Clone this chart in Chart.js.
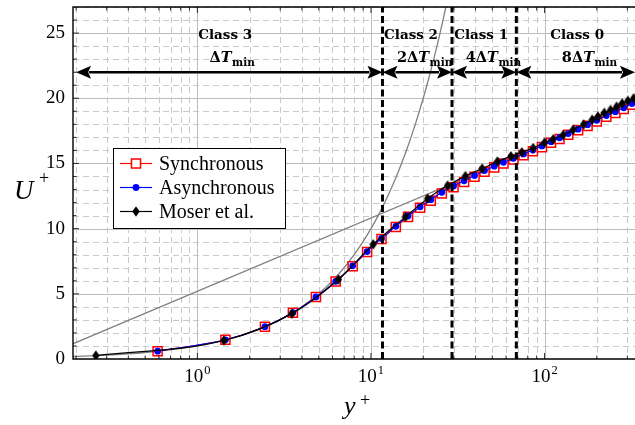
<!DOCTYPE html>
<html><head><meta charset="utf-8">
<script src="https://cdn.jsdelivr.net/npm/chart.js@4.4.0/dist/chart.umd.min.js"></script>
<style>html,body{margin:0;padding:0;background:#fff;}#wrap{width:635px;height:425px;position:relative;}</style>
</head><body><div id="wrap"><canvas id="c" width="635" height="425"></canvas></div>
<script>
// ---------- data ----------
const syncYPlus = [0.59,1.45,2.45,3.55,4.82,6.26,7.84,9.5,11.5,13.9,16.35,19.2,22.1,25.6,29.9,34.4,39.5,45.1,51.3,58.0,66.2,75.7,85.7,96.6,109,122,137,156,177,200,227,256,286,319,356];
const syncU     = [0.6,1.47,2.48,3.55,4.75,5.94,7.12,8.2,9.2,10.12,10.9,11.6,12.14,12.7,13.18,13.58,13.98,14.36,14.7,15.0,15.3,15.64,15.94,16.25,16.58,16.88,17.2,17.54,17.88,18.22,18.58,18.88,19.18,19.5,19.8];
const asyncYPlus = [0.59,1.45,2.45,3.55,4.82,6.26,7.84,9.5,11.5,13.9,16.35,19.2,22.1,25.6,29.9,34.4,39.5,45.1,51.3,58.0,66.2,75.7,85.7,96.6,109,122,137,156,177,200,227,256,286,319,356];
const asyncU     = [0.6,1.47,2.48,3.56,4.76,5.96,7.15,8.24,9.25,10.18,10.97,11.67,12.22,12.79,13.27,13.67,14.07,14.45,14.79,15.09,15.39,15.73,16.03,16.34,16.67,16.97,17.29,17.63,17.97,18.31,18.67,18.97,19.27,19.59,19.9];
const moserYPlus = [0.26,1.42,3.5,6.5,10.3,15.8,21.2,27.6,35,43.7,53.5,64,74,86,100,112,128,146,168,188,203,221,240,260,280,302,326,352];
const moserU     = [0.26,1.42,3.48,6.1,8.8,10.9,12.3,13.3,14.03,14.6,15.15,15.55,15.85,16.18,16.6,16.85,17.18,17.58,18.0,18.35,18.6,18.88,19.1,19.35,19.6,19.8,20.0,20.2];
// reference curves: viscous sublayer U+ = y+ and log law
const viscousYPlus = [0.19,0.3,0.5,0.75,1,1.5,2,2.5,3,4,5,6,7,8,9,10,11,12,13,14,15,16,17,18,19,20,21,22,23,24,25,26,27,28];
const viscousU     = [0.19,0.3,0.5,0.75,1,1.5,2,2.5,3,4,5,6,7,8,9,10,11,12,13,14,15,16,17,18,19,20,21,22,23,24,25,26,27,28];
const logLawYPlus = [0.19, 350];
const logLawU     = [1.15, 19.49];
// class annotations
const classBounds = [11.65, 29.3, 68.8];
const arrowEnds   = [0.2, 332];
const arrowU      = 22;
const classNames  = ['Class 3','Class 2','Class 1','Class 0'];
const classLabelX = [1.445, 17.0, 43.1, 154];
const classLabelU = 24.58;
const dtPrefix    = ['', '2', '4', '8'];
const dtLabelX    = [1.58, 20.3, 50.6, 181];
const dtLabelU    = 22.78;
// axes
const xMin = 0.192, xMax = 332, yMin = 0, yMax = 27;
const xTickValues = [1, 10, 100];
const xTickExp = ['0','1','2'];
const yTickStep = 5;

const pts = (xs, ys) => xs.map((x, i) => ({x, y: ys[i]}));

// diamond marker (taller than wide)
function makeDiamond(w, h, color){
  const c = document.createElement('canvas'); c.width = w; c.height = h;
  const g = c.getContext('2d'); g.fillStyle = color; g.beginPath();
  g.moveTo(w/2, 0.3); g.lineTo(w-0.3, h/2); g.lineTo(w/2, h-0.3); g.lineTo(0.3, h/2); g.closePath(); g.fill();
  return c;
}
const diamond = makeDiamond(8, 11, '#000');

const SERIF = "'Liberation Serif', 'Times New Roman', serif";
const BOLDSERIF = "'DejaVu Serif', serif";

function noPad(s){ s.paddingTop = 0; s.paddingBottom = 0; s.paddingLeft = 0; s.paddingRight = 0; }

const overlay = {
  id: 'overlay',
  beforeDatasetsDraw(chart){
    const {ctx, chartArea: a, scales: {x, y}} = chart;
    ctx.save();
    ctx.beginPath(); ctx.rect(a.left, a.top, a.right - a.left, a.bottom - a.top); ctx.clip();
    ctx.lineWidth = 1;
    for (let v = yMin + 1; v <= yMax; v++) {
      const py = Math.round(y.getPixelForValue(v)) + 0.5;
      const major = v % yTickStep === 0;
      ctx.strokeStyle = major ? '#bdbdbd' : '#c9c9c9';
      ctx.setLineDash(major ? [] : [6, 4]);
      ctx.beginPath(); ctx.moveTo(a.left, py); ctx.lineTo(a.right, py); ctx.stroke();
    }
    for (let d = -1; d <= 2; d++) {
      for (let m = 1; m <= 9; m++) {
        const v = m * Math.pow(10, d);
        if (v <= xMin || v >= xMax) continue;
        const px = Math.round(x.getPixelForValue(v)) + 0.5;
        const major = m === 1;
        ctx.strokeStyle = major ? '#bdbdbd' : '#c9c9c9';
        ctx.setLineDash(major ? [] : [6, 4]);
        ctx.beginPath(); ctx.moveTo(px, a.top); ctx.lineTo(px, a.bottom); ctx.stroke();
      }
    }
    ctx.restore();
  },
  afterDatasetsDraw(chart){
    const {ctx, chartArea: a, scales: {x, y}} = chart;
    ctx.save();
    ctx.strokeStyle = '#000'; ctx.lineWidth = 3; ctx.setLineDash([7, 3.5]);
    classBounds.forEach(b => {
      const px = x.getPixelForValue(b);
      ctx.beginPath(); ctx.moveTo(px, a.bottom); ctx.lineTo(px, a.top); ctx.stroke();
    });
    ctx.setLineDash([]);
    const stops = [arrowEnds[0], ...classBounds, arrowEnds[1]];
    const ay = y.getPixelForValue(arrowU);
    const hl = 15, hw = 6.5;
    for (let i = 0; i < stops.length - 1; i++) {
      const x1 = x.getPixelForValue(stops[i]), x2 = x.getPixelForValue(stops[i+1]);
      ctx.fillStyle = '#000'; ctx.strokeStyle = '#000'; ctx.lineWidth = 2.4;
      ctx.beginPath(); ctx.moveTo(x1 + hl - 2, ay); ctx.lineTo(x2 - hl + 2, ay); ctx.stroke();
      ctx.beginPath(); ctx.moveTo(x1, ay); ctx.lineTo(x1 + hl, ay - hw); ctx.lineTo(x1 + hl - 3, ay); ctx.lineTo(x1 + hl, ay + hw); ctx.closePath(); ctx.fill();
      ctx.beginPath(); ctx.moveTo(x2, ay); ctx.lineTo(x2 - hl, ay - hw); ctx.lineTo(x2 - hl + 3, ay); ctx.lineTo(x2 - hl, ay + hw); ctx.closePath(); ctx.fill();
    }
    ctx.fillStyle = '#000'; ctx.textBaseline = 'alphabetic'; ctx.textAlign = 'center';
    ctx.font = "bold 13.5px " + BOLDSERIF;
    classNames.forEach((n, i) => ctx.fillText(n, x.getPixelForValue(classLabelX[i]), y.getPixelForValue(classLabelU)));
    ctx.textAlign = 'left';
    const fMain = "bold 14.5px " + BOLDSERIF, fIt = "italic bold 14.5px " + BOLDSERIF, fSub = "bold 10.5px " + BOLDSERIF;
    dtPrefix.forEach((p, i) => {
      const parts = [[p + '\u0394', fMain, 0], ['T', fIt, 0], ['min', fSub, 3.5]];
      let w = 0;
      parts.forEach(pt => { ctx.font = pt[1]; w += ctx.measureText(pt[0]).width; });
      let cx = x.getPixelForValue(dtLabelX[i]) - w / 2;
      const by = y.getPixelForValue(dtLabelU);
      parts.forEach(pt => { ctx.font = pt[1]; ctx.fillText(pt[0], cx, by + pt[2]); cx += ctx.measureText(pt[0]).width + (pt[0]==='T' ? 0.5 : 0); });
    });
    ctx.strokeStyle = '#000'; ctx.lineWidth = 1.4;
    ctx.beginPath(); ctx.moveTo(a.right + 2, a.bottom); ctx.lineTo(a.left, a.bottom); ctx.lineTo(a.left, a.top); ctx.lineTo(a.right + 2, a.top); ctx.stroke();
    ctx.lineWidth = 0.8;
    for (let d = -1; d <= 2; d++) for (let m = 1; m <= 9; m++) {
      const v = m * Math.pow(10, d);
      if (v <= xMin || v >= xMax) continue;
      const px = x.getPixelForValue(v), len = m === 1 ? 6 : 3.5;
      ctx.beginPath(); ctx.moveTo(px, a.bottom); ctx.lineTo(px, a.bottom - len);
      ctx.moveTo(px, a.top); ctx.lineTo(px, a.top + len); ctx.stroke();
    }
    for (let v = yMin + 1; v < yMax; v++) {
      const py = y.getPixelForValue(v), len = v % yTickStep === 0 ? 6 : 3.5;
      ctx.beginPath(); ctx.moveTo(a.left, py); ctx.lineTo(a.left + len, py); ctx.stroke();
    }
    xTickValues.forEach((v, i) => {
      const px = x.getPixelForValue(v);
      ctx.font = "19px " + SERIF; const w1 = ctx.measureText('10').width;
      ctx.font = "12.5px " + SERIF; const w2 = ctx.measureText(xTickExp[i]).width;
      const sx = px - (w1 + w2 + 1) / 2;
      ctx.font = "19px " + SERIF; ctx.fillText('10', sx, 381.5);
      ctx.font = "12.5px " + SERIF; ctx.fillText(xTickExp[i], sx + w1 + 1, 373.5);
    });
    ctx.font = "italic 27px " + SERIF; ctx.fillText('U', 14, 199);
    ctx.font = "18px " + SERIF; ctx.fillText('+', 39, 184);
    ctx.font = "italic 26px " + SERIF; ctx.fillText('y', 344, 414);
    ctx.font = "18px " + SERIF; ctx.fillText('+', 360, 406);
    ctx.restore();
  },
  afterDraw(chart){
    const ctx = chart.ctx;
    const ds = chart.data.datasets.filter(d => d.inLegend);
    ctx.save();
    ctx.fillStyle = '#fff'; ctx.strokeStyle = '#000'; ctx.lineWidth = 1;
    ctx.fillRect(113.5, 148.5, 172, 80); ctx.strokeRect(113.5, 148.5, 172, 80);
    const rows = [163.5, 187.5, 211.5];
    ds.forEach((d, i) => {
      const cy = rows[i];
      ctx.strokeStyle = d.borderColor; ctx.lineWidth = 1.2;
      ctx.beginPath(); ctx.moveTo(120, cy); ctx.lineTo(152, cy); ctx.stroke();
      if (d.pointStyle === 'rect') {
        ctx.fillStyle = '#fff'; ctx.fillRect(131.5, cy - 4.5, 9, 9);
        ctx.strokeStyle = d.pointBorderColor; ctx.lineWidth = 1.5; ctx.strokeRect(131.5, cy - 4.5, 9, 9);
      } else if (d.pointStyle === 'circle') {
        ctx.fillStyle = d.pointBackgroundColor; ctx.beginPath(); ctx.arc(136, cy, 3.4, 0, 2 * Math.PI); ctx.fill();
      } else {
        ctx.drawImage(d.pointStyle, 136 - 4, cy - 5.5);
      }
      ctx.fillStyle = '#000'; ctx.font = "20px " + SERIF; ctx.textAlign = 'left'; ctx.textBaseline = 'alphabetic';
      ctx.fillText(d.label, 159, cy + 6.7);
    });
    ctx.restore();
  }
};

new Chart(document.getElementById('c'), {
  type: 'line',
  data: {
    datasets: [
      {label: 'Synchronous', inLegend: true, data: pts(syncYPlus, syncU), borderColor: '#ff0000', borderWidth: 1.1, cubicInterpolationMode: 'monotone',
       pointStyle: 'rect', pointRadius: 6.4, pointBorderColor: '#ff0000', pointBackgroundColor: '#ffffff', pointBorderWidth: 1.5, order: 2},
      {label: 'Asynchronous', inLegend: true, data: pts(asyncYPlus, asyncU), borderColor: '#0000ff', borderWidth: 1.1, cubicInterpolationMode: 'monotone',
       pointStyle: 'circle', pointRadius: 3.4, pointBorderWidth: 0, pointBorderColor: '#0000ff', pointBackgroundColor: '#0000ff', order: 1},
      {label: 'Moser et al.', inLegend: true, data: pts(moserYPlus, moserU), borderColor: '#000000', borderWidth: 1.2, cubicInterpolationMode: 'monotone',
       pointStyle: diamond, pointRadius: 5, pointBackgroundColor: '#000', order: 0},
      {label: 'viscous', data: pts(viscousYPlus, viscousU), borderColor: '#808080', borderWidth: 1.3, pointRadius: 0, cubicInterpolationMode: 'monotone', order: 3},
      {label: 'loglaw', data: pts(logLawYPlus, logLawU), borderColor: '#808080', borderWidth: 1.3, pointRadius: 0, order: 4}
    ]
  },
  options: {
    responsive: false, animation: false, devicePixelRatio: 1,
    layout: {autoPadding: false, padding: {top: 7, left: 0, right: 0, bottom: 0}},
    plugins: {legend: {display: false}, tooltip: {enabled: false}},
    scales: {
      x: {type: 'logarithmic', min: xMin, max: xMax,
          ticks: {display: false}, grid: {display: false, drawTicks: false}, border: {display: false},
          afterFit: s => { s.height = 66; noPad(s); }},
      y: {type: 'linear', min: yMin, max: yMax,
          ticks: {stepSize: yTickStep, includeBounds: false, padding: 8, color: '#000', font: {family: SERIF, size: 19},
                  callback: v => (v % yTickStep === 0 ? String(v) : '')},
          grid: {display: false, drawTicks: false}, border: {display: false},
          afterFit: s => { s.width = 73; noPad(s); }}
    }
  },
  plugins: [overlay]
});
</script></body></html>
